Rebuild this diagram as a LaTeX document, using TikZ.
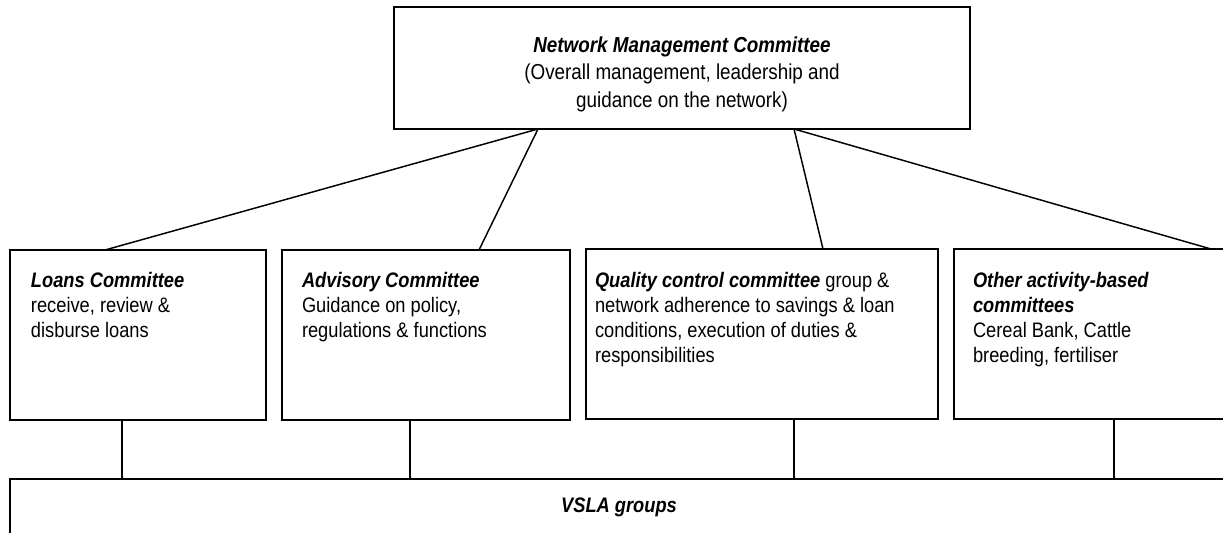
\documentclass[tikz,border=0pt]{standalone}
\usepackage{fontspec}
\setmainfont{Liberation Sans}[FakeStretch=0.87]
\usetikzlibrary{calc}
\begin{document}
\begin{tikzpicture}[x=0.75pt,y=-0.75pt,
  box/.style={draw=black,line width=1.5pt,inner sep=0pt,outer sep=0pt,anchor=north west},
  txt/.style={inner sep=0pt,outer sep=0pt,anchor=base west,align=left,
    font=\fontsize{15.75pt}{18.75pt}\selectfont},
  toptxt/.style={inner sep=0pt,outer sep=0pt,anchor=base,align=center,
    font=\fontsize{16.25pt}{20.6pt}\selectfont},
  link/.style={draw=black,line width=1.1pt}]
\useasboundingbox (0,0) rectangle (1223,532);
\clip (0,0) rectangle (1223,532);
% boxes
\node[box,minimum width=432pt,minimum height=91.5pt] (top) at (394,7) {};
\node[box,minimum width=192pt,minimum height=127.5pt] (loans) at (10,250) {};
\node[box,minimum width=216pt,minimum height=127.5pt] (adv) at (282,250) {};
\node[box,minimum width=264pt,minimum height=127.5pt] (qual) at (586,249) {};
\node[box,minimum width=222pt,minimum height=127.5pt] (oth) at (954,249) {};
\node[box,minimum width=930pt,minimum height=60.75pt] (vsla) at (10,479) {};
% texts (base anchor = baseline of the last line)
\node[toptxt] (toptext) at (682,107) {\textbf{\textit{Network Management Committee}}\\(Overall management, leadership and\\guidance on the network)};
\node[txt] (loanstext) at (31,337) {\textbf{\textit{Loans Committee}}\\receive, review \&\\disburse loans};
\node[txt] (advtext) at (302,337) {\textbf{\textit{Advisory Committee}}\\Guidance on policy,\\regulations \& functions};
\node[txt] (qualtext) at (595,362) {\textbf{\textit{Quality control committee}} group \&\\network adherence to savings \& loan\\conditions, execution of duties \&\\responsibilities};
\node[txt] (othtext) at (973,362) {\textbf{\textit{Other activity-based}}\\\textbf{\textit{committees}}\\Cereal Bank, Cattle\\breeding, fertiliser};
\node[txt,anchor=base] (vslatext) at (619,512) {\textbf{\textit{VSLA groups}}};
% junction coordinates
\coordinate (jl) at ($(top.south west)+(144,0)$);
\coordinate (jr) at ($(top.south west)+(400,0)$);
\coordinate (tl) at ($(loans.north west)+(95,0)$);
\coordinate (ta) at ($(adv.north west)+(197,0)$);
\coordinate (tq) at ($(qual.north west)+(237,0)$);
\coordinate (to) at ($(oth.north west)+(257,0)$);
\coordinate (bl) at ($(loans.south west)+(112,0)$);
\coordinate (ba) at ($(adv.south west)+(128,0)$);
\coordinate (bq) at ($(qual.south west)+(208,0)$);
\coordinate (bo) at ($(oth.south west)+(160,0)$);
% connectors
\draw[link] (jl) -- (tl);
\draw[link] (jl) -- (ta);
\draw[link] (jr) -- (tq);
\draw[link] (jr) -- (to);
\draw[link] (bl) -- (bl |- vsla.north);
\draw[link] (ba) -- (ba |- vsla.north);
\draw[link] (bq) -- (bq |- vsla.north);
\draw[link] (bo) -- (bo |- vsla.north);
\end{tikzpicture}
\end{document}
